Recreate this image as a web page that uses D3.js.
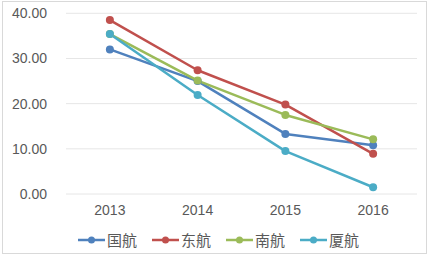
<!DOCTYPE html>
<html><head><meta charset="utf-8">
<script src="https://cdn.jsdelivr.net/npm/d3@7"></script>
<style>body{margin:0;background:#fff}svg{display:block}</style>
</head><body>
<script>
const years = ["2013","2014","2015","2016"];
const seriesNames = ["国航","东航","南航","厦航"];
const guohang = [32.0, 25.0, 13.3, 10.8];
const donghang = [38.5, 27.4, 19.8, 8.9];
const nanhang = [35.4, 25.1, 17.5, 12.1];
const xiahang = [35.4, 21.9, 9.5, 1.5];
const yTicks = [0,10,20,30,40];
const colors = ["#4f81bd","#c0504d","#9bbb59","#4bacc6"];
const seriesValues = [guohang, donghang, nanhang, xiahang];

const W=433,H=256;
const svg=d3.select("body").append("svg").attr("width",W).attr("height",H);
svg.append("rect").attr("x",2.5).attr("y",1.5).attr("width",424).attr("height",252)
  .attr("fill","#fff").attr("stroke","#d9d9d9");
const font="'Liberation Sans', Arial, sans-serif";
const x=d3.scaleBand().domain(years).range([66,417]);
const y=d3.scaleLinear().domain([0,40]).range([194,13.3]);
// gridlines
svg.append("g").selectAll("line").data(yTicks).join("line")
  .attr("x1",66).attr("x2",417).attr("y1",d=>y(d)).attr("y2",d=>y(d))
  .attr("stroke","#e6e6e6").attr("stroke-width",1);
// y axis
const ya=svg.append("g").attr("transform","translate(66,0)")
  .call(d3.axisLeft(y).tickValues(yTicks).tickFormat(d3.format(".2f")).tickSize(0).tickPadding(19));
ya.select(".domain").remove();
ya.selectAll("text").attr("fill","#595959").style("font-family",font).style("font-size","14px");
// x axis
const xa=svg.append("g").attr("transform","translate(0,194)")
  .call(d3.axisBottom(x).tickSize(0).tickPadding(11));
xa.select(".domain").remove();
xa.selectAll("text").attr("fill","#595959").style("font-family",font).style("font-size","14px");
// lines
const line=d3.line().x((d,i)=>x(years[i])+x.bandwidth()/2).y(d=>y(d));
seriesValues.forEach((vals,k)=>{
  svg.append("path").datum(vals).attr("d",line).attr("fill","none")
    .attr("stroke",colors[k]).attr("stroke-width",2.5).attr("stroke-linejoin","round");
});
seriesValues.forEach((vals,k)=>{
  svg.append("g").selectAll("circle").data(vals).join("circle")
    .attr("cx",(d,i)=>x(years[i])+x.bandwidth()/2).attr("cy",d=>y(d)).attr("r",4)
    .attr("fill",colors[k]);
});
// legend
const legX=[78,152,226,300];
const lg=svg.append("g");
seriesNames.forEach((n,k)=>{
  const g=lg.append("g").attr("transform",`translate(${legX[k]},240)`);
  g.append("line").attr("x1",0).attr("x2",27).attr("stroke",colors[k]).attr("stroke-width",2.5);
  g.append("circle").attr("cx",13.5).attr("r",3.5).attr("fill",colors[k]);
  g.append("text").attr("x",29).attr("y",5.5).text(n).attr("fill","#595959")
    .style("font-family","'Noto Sans CJK SC', sans-serif").style("font-size","15px");
});
</script>
</body></html>
